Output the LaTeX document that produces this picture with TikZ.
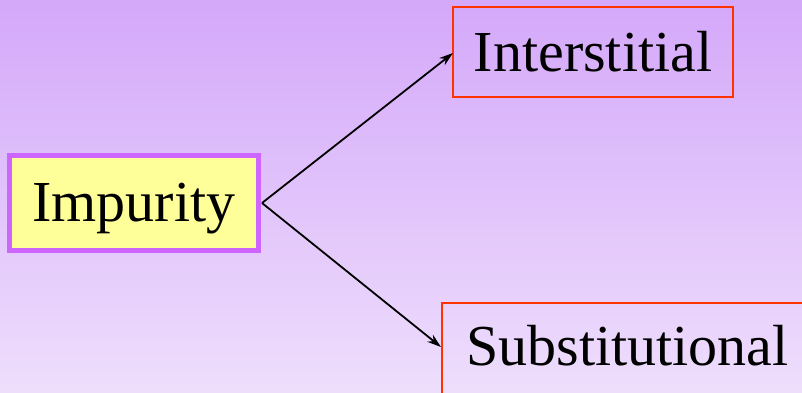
\documentclass[tikz,border=0pt]{standalone}
\usepackage{fontspec}
\setmainfont{Liberation Serif}
\newfontfamily\boxfont{Liberation Serif}
\usetikzlibrary{arrows.meta}
\definecolor{bgtop}{RGB}{212,168,250}
\definecolor{bgbot}{RGB}{238,222,252}
\definecolor{impfill}{RGB}{255,255,153}
\definecolor{impedge}{RGB}{204,102,255}
\definecolor{kindedge}{RGB}{255,51,0}
\tikzset{
  x=1pt, y=1pt,
  label text/.style={font=\boxfont\fontsize{58}{62}\selectfont, text=black},
  rootbox/.style={draw=impedge, line width=5pt, fill=impfill, inner sep=0pt},
  kindbox/.style={draw=kindedge, line width=2pt, inner sep=0pt},
  link/.style={-{Stealth[length=14pt,width=9pt]}, line width=1.8pt, black},
}
\begin{document}
\begin{tikzpicture}
  % backdrop: vertical purple gradient
  \shade[top color=bgtop, bottom color=bgbot] (0,0) rectangle (802,-392);
  \useasboundingbox (0,0) rectangle (802,-392);

  % impurity box
  \draw[rootbox] (9.5,-155.5) rectangle (258.5,-250.5);
  \node[label text, anchor=base] (imp) at (134,-221) {Impurity};
  \coordinate (src) at (262,-203);

  % interstitial box
  \draw[kindbox] (453,-7) rectangle (733,-97);
  \node[label text, anchor=base] (inter) at (593,-71) {Interstitial};
  \coordinate (interL) at (453,-53);

  % substitutional box, running off the right and bottom edges
  \draw[kindbox] (442,-303) rectangle (812,-402);
  \node[label text, anchor=base west] (subs) at (463,-365) {Substitutional};
  \coordinate (subsL) at (441,-347);

  % connectors
  \draw[link] (src) -- (interL);
  \draw[link] (src) -- (subsL);
\end{tikzpicture}
\end{document}
